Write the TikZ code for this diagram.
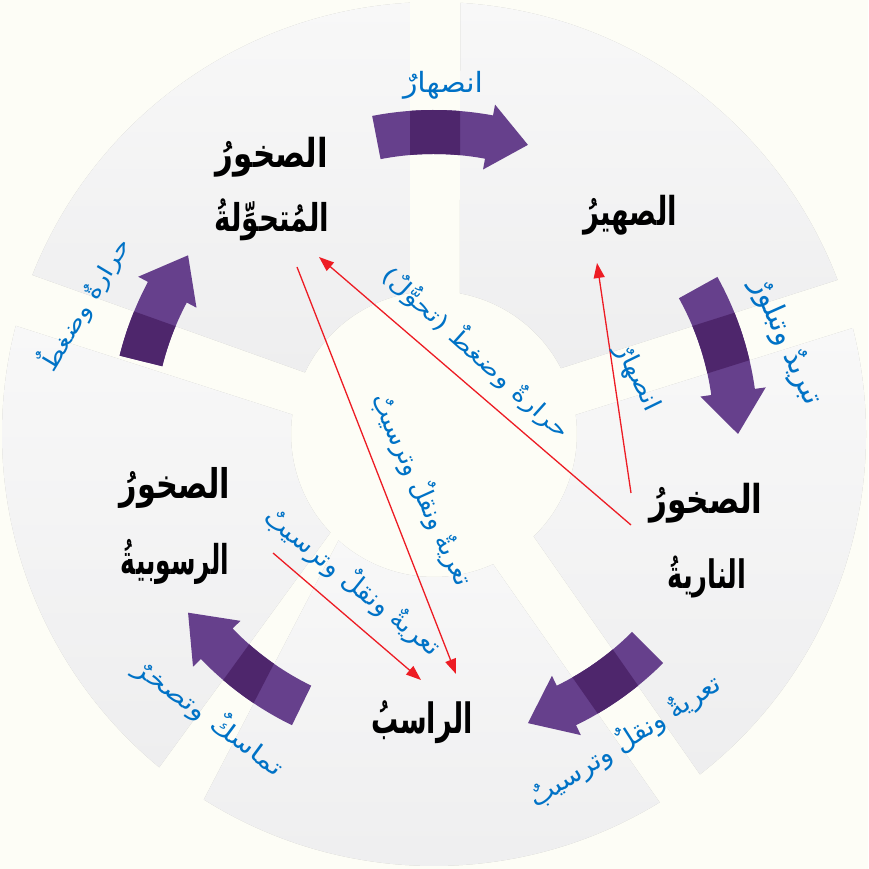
\documentclass[tikz,border=0pt]{standalone}
\usepackage{fontspec}
\usepackage{graphicx}
\usetikzlibrary{calc,arrows.meta}
\newfontfamily\arabicfont[Script=Arabic]{DejaVu Sans}
\TeXXeTstate=1
\definecolor{bgcream}{RGB}{253,253,246}
\definecolor{panelgray}{RGB}{238,238,239}
\definecolor{panellight}{RGB}{248,248,248}
\definecolor{arrowpurple}{RGB}{102,64,140}
\definecolor{arrowdark}{RGB}{78,38,108}
\definecolor{labelblue}{RGB}{0,114,198}
\definecolor{linered}{RGB}{237,28,36}
\newcommand{\fitw}[3]{\resizebox*{#1}{#2}{\arabicfont #3}}
\newcommand{\fitb}[3]{\resizebox*{#1}{#2}{\arabicfont\bfseries #3}}
\newcommand{\panelpath}[4]{($(C)+(#1:432)$) arc[start angle=#1, end angle=#2, radius=432pt] -- ($(C)+(#3:143)$) arc[start angle=#3, end angle=#4, radius=143pt] -- cycle}
\newcommand{\cyclearrow}[3]{($(C)+(#1:324)$) arc[start angle=#1, end angle=#2, radius=324pt] -- ($(C)+(#2:335)$) -- ($(C)+(#3:304)$) -- ($(C)+(#2:269)$) -- ($(C)+(#2:280)$) arc[start angle=#2, end angle=#1, radius=280pt] -- cycle}
\tikzset{
  panel/.style={top color=panellight, bottom color=panelgray},
  panelshadow/.style={fill=black, opacity=0.22, xshift=3pt, yshift=-3pt},
  rockname/.style={inner sep=0pt, text=black},
  proclabel/.style={inner sep=0pt, text=labelblue},
  redarrow/.style={draw=linered, line width=1.3pt, -{Triangle[length=15pt,width=11pt]}},
  cyclefill/.style={fill=arrowpurple},
  cycledark/.style={fill=arrowdark}
}
\begin{document}
\begin{tikzpicture}[x=1pt,y=1pt]
\useasboundingbox (0,0) rectangle (868,869);
\fill[bgcream] (0,0) rectangle (868,869);
\coordinate (C) at (434,435);
% shadows
\fill[panelshadow] \panelpath{93.2}{158.4}{154.5}{99.7};
\fill[panelshadow] \panelpath{86.5}{20.9}{27.4}{79.6};
\fill[panelshadow] \panelpath{14.2}{-52}{-45.8}{7.7};
\fill[panelshadow] \panelpath{-58.5}{-122.2}{-131.9}{-65.6};
\fill[panelshadow] \panelpath{230.5}{165.5}{172.2}{223.6};
% panels
\shade[panel] \panelpath{93.2}{158.4}{154.5}{99.7};
\shade[panel] \panelpath{86.5}{20.9}{27.4}{79.6};
\shade[panel] \panelpath{14.2}{-52}{-45.8}{7.7};
\shade[panel] \panelpath{-58.5}{-122.2}{-131.9}{-65.6};
\shade[panel] \panelpath{230.5}{165.5}{172.2}{223.6};
% purple cycle arrows
\fill[cyclefill] \cyclearrow{101}{79.5}{72};
\fill[cyclefill] \cyclearrow{29}{8}{0};
\fill[cyclefill] \cyclearrow{-45}{-64}{-72};
\fill[cyclefill] \cyclearrow{244}{224}{216};
\fill[cyclefill] \cyclearrow{166}{152}{144};
\begin{scope}
  \clip (410,869-3) -- (410,869-293) -- (460,869-293) -- (460,869-3) -- cycle;
  \fill[cycledark] \cyclearrow{101}{79.5}{72};
\end{scope}
\begin{scope}
  \clip (563,869-367) -- (838,869-280) -- (852,869-328) -- (575,869-415) -- cycle;
  \fill[cycledark] \cyclearrow{29}{8}{0};
\end{scope}
\begin{scope}
  \clip (534,869-537) -- (700,869-774) -- (659,869-801) -- (493,869-564) -- cycle;
  \fill[cycledark] \cyclearrow{-45}{-64}{-72};
\end{scope}
\begin{scope}
  \clip (337,869-542) -- (205,869-797) -- (163,869-763) -- (330,869-533) -- cycle;
  \fill[cycledark] \cyclearrow{244}{224}{216};
\end{scope}
\begin{scope}
  \clip (295,869-415) -- (16,869-326) -- (32,869-275) -- (304,869-372) -- cycle;
  \fill[cycledark] \cyclearrow{166}{152}{144};
\end{scope}
% red arrows
\coordinate (r1s) at (631,869-493); \coordinate (r1e) at (597,869-263);
\coordinate (r2s) at (631,869-525); \coordinate (r2e) at (319,869-257);
\coordinate (r3s) at (297,869-267); \coordinate (r3e) at (456,869-674);
\coordinate (r4s) at (273,869-553); \coordinate (r4e) at (421,869-680);
\draw[redarrow] (r1s) -- (r1e);
\draw[redarrow] (r2s) -- (r2e);
\draw[redarrow] (r3s) -- (r3e);
\draw[redarrow] (r4s) -- (r4e);
% rock names
\node[rockname] (met1) at (272,869-157) {\fitb{112pt}{40pt}{\beginR الصخورُ\endR}};
\node[rockname] (met2) at (272,869-220) {\fitb{115pt}{42pt}{\beginR المُتحوِّلةُ\endR}};
\node[rockname] (magma) at (630,869-215) {\fitb{94pt}{40pt}{\beginR الصهيرُ\endR}};
\node[rockname] (ign1) at (706,869-503) {\fitb{113pt}{40pt}{\beginR الصخورُ\endR}};
\node[rockname] (ign2) at (707,869-577) {\fitb{79pt}{43pt}{\beginR الناريةُ\endR}};
\node[rockname] (sed1) at (175,869-488) {\fitb{110pt}{41pt}{\beginR الصخورُ\endR}};
\node[rockname] (sed2) at (175,869-562) {\fitb{108pt}{45pt}{\beginR الرسوبيةُ\endR}};
\node[rockname] (sedi) at (422,869-722) {\fitb{101pt}{43pt}{\beginR الراسبُ\endR}};
% process labels
\node[proclabel] (l1) at (443,869-85) {\fitw{80pt}{28pt}{\beginR انصهارٌ\endR}};
\node[proclabel, rotate=59] (l2) at (84,869-304) {\fitw{150pt}{30pt}{\beginR حرارةٌ وضغطٌ\endR}};
\node[proclabel, rotate=-66] (l3) at (786,869-342) {\fitw{135pt}{30pt}{\beginR تبريدٌ وتبلورٌ\endR}};
\node[proclabel, rotate=-42] (l4) at (477,869-352) {\fitw{243pt}{30pt}{\beginR حرارةٌ وضغطٌ (تحوُّلٌ)\endR}};
\node[proclabel, rotate=-64] (l5) at (637,869-378) {\fitw{72pt}{25pt}{\beginR انصهارٌ\endR}};
\node[proclabel, rotate=-65.6] (l6) at (422,869-490) {\fitw{208pt}{30pt}{\beginR تعريةٌ ونقلٌ وترسيبٌ\endR}};
\node[proclabel, rotate=-38.7] (l7) at (353,869-582) {\fitw{218pt}{30pt}{\beginR تعريةٌ ونقلٌ وترسيبٌ\endR}};
\node[proclabel, rotate=32.7] (l8) at (625,869-741) {\fitw{222pt}{30pt}{\beginR تعريةٌ ونقلٌ وترسيبٌ\endR}};
\node[proclabel, rotate=-36.5] (l9) at (210,869-717) {\fitw{178pt}{30pt}{\beginR تماسكٌ وتصخرٌ\endR}};
\end{tikzpicture}
\end{document}
